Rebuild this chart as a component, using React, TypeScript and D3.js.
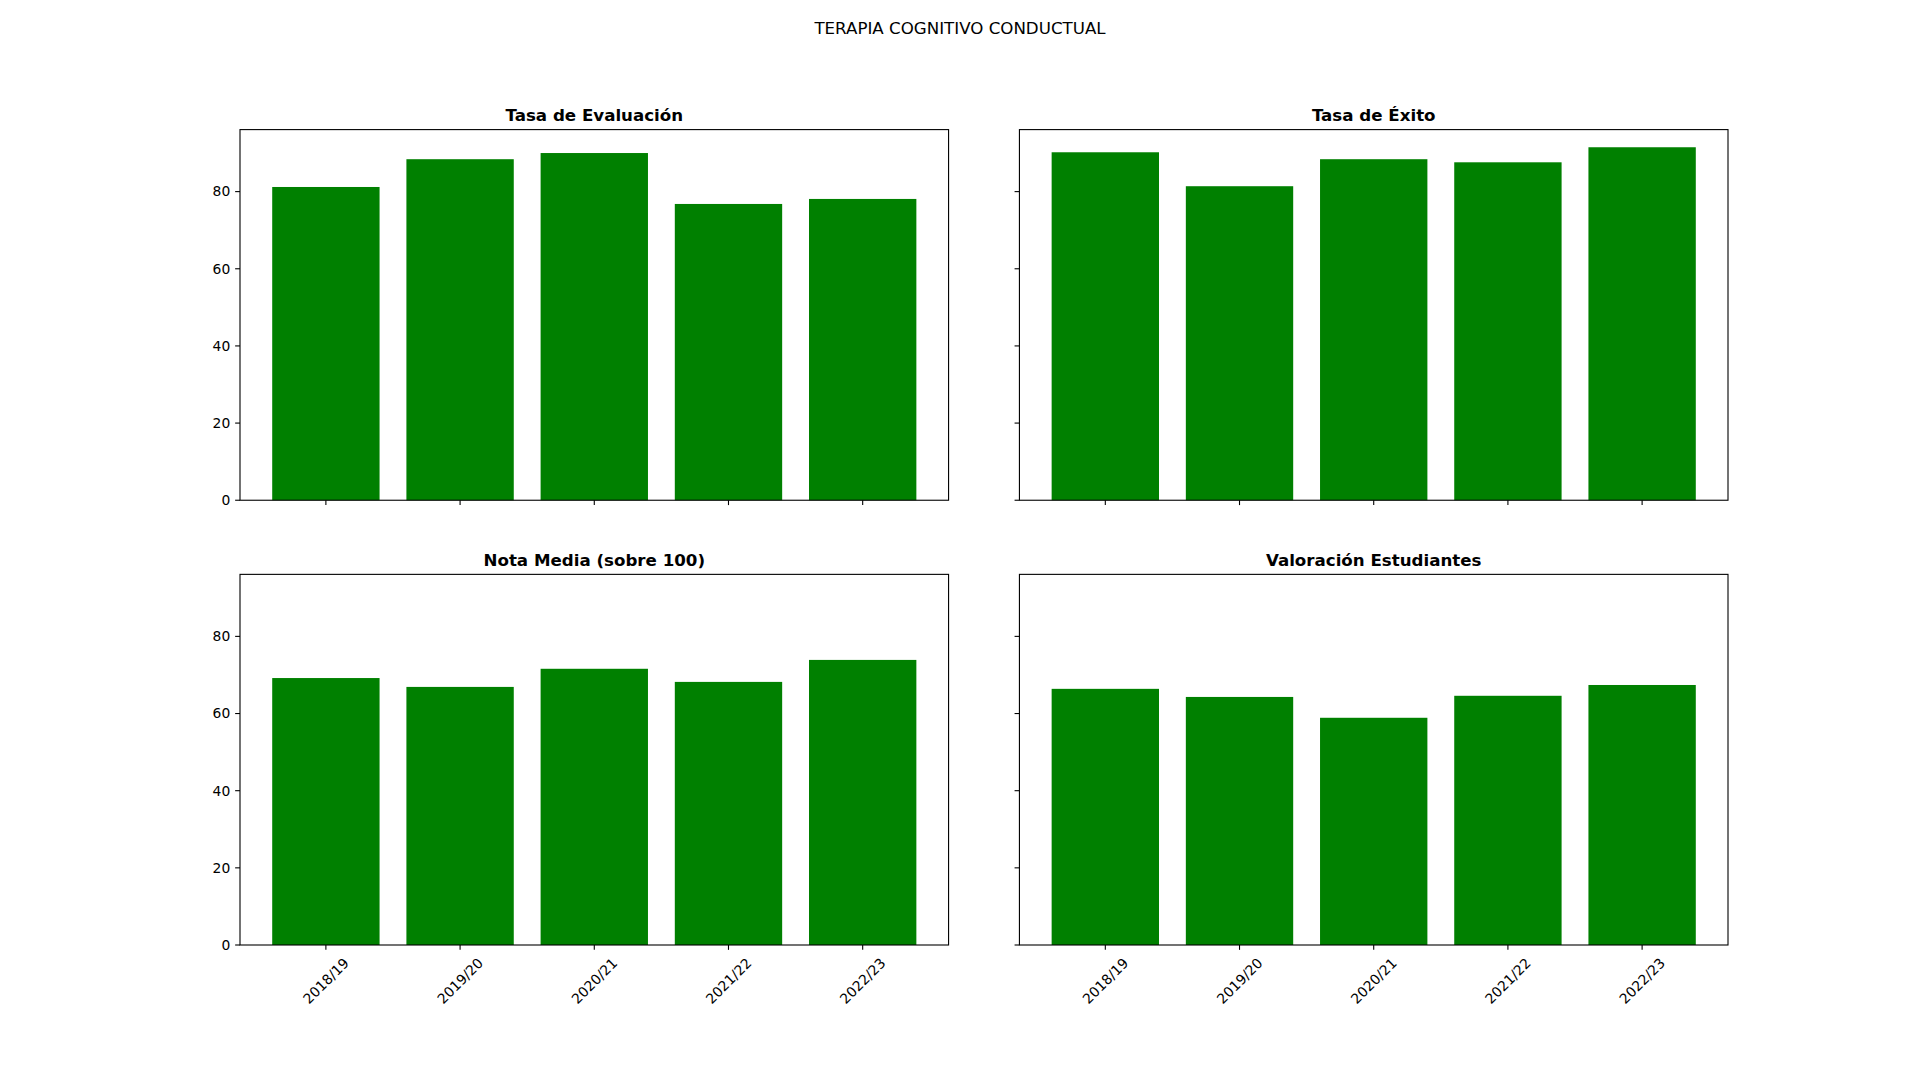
import React, { useEffect, useRef } from 'react';
import * as d3 from 'd3';

// Course years on the x axis
const cursos = ['2018/19', '2019/20', '2020/21', '2021/22', '2022/23'];

// One array per panel
const tasaEvaluacion = [81.2, 88.4, 90.0, 76.8, 78.1];
const tasaExito = [90.2, 81.4, 88.4, 87.6, 91.5];
const notaMedia = [69.2, 66.9, 71.6, 68.2, 73.9];
const valoracionEstudiantes = [66.4, 64.3, 58.9, 64.6, 67.4];

const titulos = ['Tasa de Evaluación', 'Tasa de Éxito', 'Nota Media (sobre 100)', 'Valoración Estudiantes'];
const yTicks = [0, 20, 40, 60, 80];

const suptitle = 'TERAPIA COGNITIVO CONDUCTUAL';

const App = () => {
    const svgRef = useRef<SVGSVGElement>(null);

    useEffect(() => {
        const W = 1920, H = 1080;
        const font = 'DejaVu Sans, sans-serif';
        const tickFs = 13.89, titleFs = 16.67;
        const tickLen = 4.86, pad = 4.86;

        const svg = d3.select(svgRef.current);
        svg.selectAll('*').remove();
        svg.attr('width', W).attr('height', H);

        // figure layout (matplotlib-like subplots, wspace 0.1, hspace 0.2)
        const left = 240, right = 1728, top = 129.6, bottom = 945;
        const w = (right - left) / 2.1, gapX = w * 0.1;
        const h = (bottom - top) / 2.2, gapY = h * 0.2;

        const series = [tasaEvaluacion, tasaExito, notaMedia, valoracionEstudiantes];
        const ymax = d3.max(series.flat()) * 1.05;

        svg.append('text')
            .attr('x', W / 2)
            .attr('y', 34.2)
            .attr('text-anchor', 'middle')
            .style('font-family', font)
            .style('font-size', titleFs + 'px')
            .text(suptitle);

        series.forEach((vals, k) => {
            const col = k % 2, row = Math.floor(k / 2);
            const x0 = left + col * (w + gapX);
            const y0 = top + row * (h + gapY);

            const x = d3.scaleBand()
                .domain(cursos)
                .range([x0, x0 + w])
                .paddingInner(0.2)
                .paddingOuter(0.24);

            const y = d3.scaleLinear()
                .domain([0, ymax])
                .range([y0 + h, y0]);

            const g = svg.append('g');

            g.selectAll('rect.bar')
                .data(vals)
                .enter()
                .append('rect')
                .attr('class', 'bar')
                .attr('x', (d, i) => x(cursos[i]))
                .attr('y', (d) => y(d))
                .attr('width', x.bandwidth())
                .attr('height', (d) => y(0) - y(d))
                .attr('fill', '#008000');

            // frame
            g.append('rect')
                .attr('x', x0)
                .attr('y', y0)
                .attr('width', w)
                .attr('height', h)
                .attr('fill', 'none')
                .attr('stroke', '#000')
                .attr('stroke-width', 1.1);

            // y ticks
            yTicks.forEach((t) => {
                g.append('line')
                    .attr('x1', x0 - tickLen).attr('x2', x0)
                    .attr('y1', y(t)).attr('y2', y(t))
                    .attr('stroke', '#000').attr('stroke-width', 1.1);
                if (col === 0) {
                    g.append('text')
                        .attr('x', x0 - tickLen - pad)
                        .attr('y', y(t))
                        .attr('dy', '0.35em')
                        .attr('text-anchor', 'end')
                        .style('font-family', font)
                        .style('font-size', tickFs + 'px')
                        .text(t);
                }
            });

            // x ticks
            cursos.forEach((c) => {
                const cx = x(c) + x.bandwidth() / 2;
                g.append('line')
                    .attr('x1', cx).attr('x2', cx)
                    .attr('y1', y0 + h).attr('y2', y0 + h + tickLen)
                    .attr('stroke', '#000').attr('stroke-width', 1.1);
                if (row === 1) {
                    const label = g.append('text')
                        .attr('text-anchor', 'middle')
                        .attr('dominant-baseline', 'central')
                        .style('font-family', font)
                        .style('font-size', tickFs + 'px')
                        .text(c);
                    const tw = (label.node() as SVGTextElement).getComputedTextLength();
                    const bh = (tw + tickFs * 1.17) * Math.SQRT1_2;
                    const cy = y0 + h + tickLen + pad + bh / 2;
                    label.attr('transform', `translate(${cx},${cy}) rotate(-45)`);
                }
            });

            // panel title
            g.append('text')
                .attr('x', x0 + w / 2)
                .attr('y', y0 - 8.33)
                .attr('text-anchor', 'middle')
                .style('font-family', font)
                .style('font-size', titleFs + 'px')
                .style('font-weight', 'bold')
                .text(titulos[k]);
        });
    }, []);

    return <svg ref={svgRef} style={{ position: 'absolute', left: 0, top: 0, background: '#fff' }}></svg>;
};

export default App;
